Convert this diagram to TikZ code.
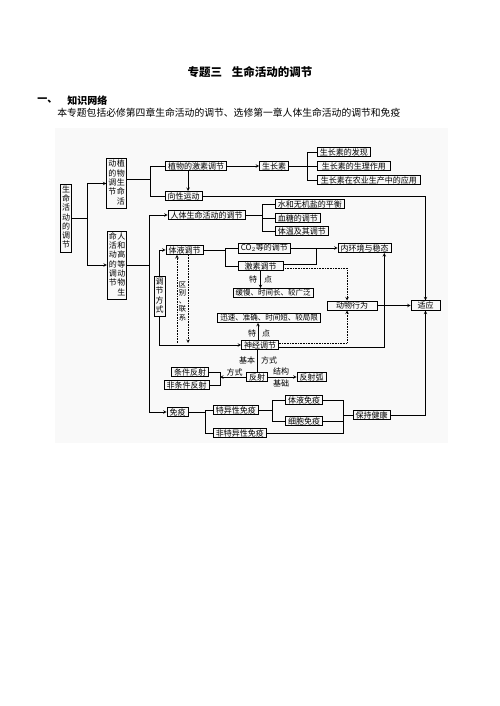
\documentclass[tikz,border=0pt]{standalone}
\usepackage{fontspec}
\setmainfont{Noto Sans CJK SC}
\newcommand{\vcol}[1]{\begin{tabular}[t]{@{}c@{}}#1\end{tabular}}
\begin{document}
\begin{tikzpicture}[x=1pt,y=-1pt,>=stealth,semithick,
  box/.style={draw,inner xsep=2.5pt,inner ysep=1pt,font=\fontsize{8}{8.7}\selectfont},
  vbox/.style={box,inner xsep=1.5pt,inner ysep=1.5pt},
  lbl/.style={inner sep=0pt,font=\fontsize{8}{8.7}\selectfont}]
\useasboundingbox (0,0) rectangle (500,706);
\fill[gray!5] (55,128) rectangle (448,443);
\node (title) [inner sep=0pt,font=\fontsize{11.5}{13}\selectfont\bfseries] at (250,72) {专题三\hspace{10pt}生命活动的调节};
\node (sec) [anchor=west,inner sep=0pt,font=\fontsize{10}{12}\selectfont\bfseries] at (37,101) {一、};
\node (sectitle) [anchor=west,inner sep=0pt,font=\fontsize{10}{12}\selectfont\bfseries] at (67,101) {知识网络};
\node (intro) [anchor=west,inner sep=0pt,font=\fontsize{9.8}{12}\selectfont] at (57,113) {本专题包括必修第四章生命活动的调节、选修第一章人体生命活动的调节和免疫};
% left column
\node (life) [vbox] at (66,218) {\vcol{生\\命\\活\\动\\的\\调\\节}};
\node (plant) [vbox] at (116.5,183.5) {\vcol{动\\的\\调\\节}\hspace{.5pt}\vcol{植\\物\\生\\命\\活}};
\node (animal) [vbox] at (117,265) {\vcol{命\\活\\动\\的\\调\\节}\hspace{.5pt}\vcol{人\\和\\高\\等\\动\\物\\生}};
% plants
\node (hormone) [box] at (196,166) {植物的激素调节};
\node (tropism) [box] at (183.5,196) {向性运动};
\node (auxin) [box] at (274,166) {生长素};
\node (aux1) [box,anchor=west] at (317,152) {生长素的发现};
\node (aux2) [box,anchor=west,minimum width=73pt] at (317,166) {生长素的生理作用};
\node (aux3) [box,anchor=west,minimum width=103pt] at (317,180) {生长素在农业生产中的应用};
% humans and animals
\node (human) [box] at (206.5,215) {人体生命活动的调节};
\node (water) [box,anchor=west] at (275,204) {水和无机盐的平衡};
\node (sugar) [box,anchor=west] at (275,218) {血糖的调节};
\node (temp) [box,anchor=west] at (275,231) {体温及其调节};
\node (humoral) [box] at (184.5,250) {体液调节};
\node (co2) [box,anchor=west] at (238,248) {CO$_2$等的调节};
\node (hormreg) [box,minimum width=45pt] at (260.5,266) {激素调节};
\node (slow) [box,font=\fontsize{7.5}{8.7}\selectfont] at (273,293) {缓慢、时间长、较广泛};
\node (homeo) [box] at (364.5,248) {内环境与稳态};
\node (behav) [box,minimum width=50pt] at (352,305.5) {动物行为};
\node (adapt) [box,minimum width=29pt] at (425.5,305.5) {适应};
\node (mode) [vbox] at (159.5,296.5) {\vcol{调\\节\\方\\式}};
\node (diff) [lbl,font=\fontsize{7.3}{7.8}\selectfont] at (182.5,302) {\vcol{区\\别\\、\\联\\系}};
\node (fast) [box,font=\fontsize{7.5}{8.7}\selectfont] at (269,318) {迅速、准确、时间短、较局限};
\node (nerve) [box] at (260,345) {神经调节};
\node (reflex) [box] at (257,377) {反射};
\node (cond) [box] at (190,372) {条件反射};
\node (uncond) [box] at (186.5,385) {非条件反射};
\node (arc) [box] at (311.5,377) {反射弧};
\node (immune) [box] at (177.5,412) {免疫};
\node (spec) [box,anchor=west] at (213,410) {特异性免疫};
\node (nonspec) [box,anchor=west] at (213,433) {非特异性免疫};
\node (humimm) [box] at (304,400) {体液免疫};
\node (cellimm) [box] at (304,421) {细胞免疫};
\node (health) [box] at (371.5,415) {保持健康};
% small labels
\node (t1) [lbl] at (253,279) {特};
\node (d1) [lbl] at (268,279) {点};
\node (t2) [lbl] at (252,333) {特};
\node (d2) [lbl] at (266,333) {点};
\node (basic) [lbl] at (247,360) {基本};
\node (way1) [lbl] at (269,360) {方式};
\node (way2) [lbl] at (234.5,372) {方式};
\node (struct) [lbl] at (281,371) {结构};
\node (base) [lbl] at (281,383) {基础};
% junctions
\coordinate (jA) at (87,218);
\coordinate (jB) at (150,179);
\coordinate (jC) at (307,166);
\coordinate (jD) at (149,265);
\coordinate (jE) at (262,215);
\coordinate (jF) at (225,250);
\coordinate (jG) at (316,248);
\coordinate (jH) at (220,378);
\coordinate (jI) at (205,412);
\coordinate (jJ) at (272,410);
\coordinate (jK) at (343,415);
\coordinate (dA) at (177,343);
\coordinate (dB) at (188,343);
% connectors
\draw (life.east) -- (jA);
\draw[->] (jA) |- (plant.west);
\draw[->] (jA) |- (animal.west);
\draw (plant.east |- jB) -- (jB);
\draw (hormone.west) -| (jB |- tropism) -- (tropism.west);
\draw[->] ([xshift=-8pt]hormone.south) -- ([xshift=-8pt]hormone.south |- tropism.north);
\draw[->] (hormone.east) -- (auxin.west);
\draw (auxin.east) -- (jC);
\draw (aux1.west) -| (jC |- aux3) -- (aux3.west);
\draw (jC |- aux2) -- (aux2.west);
\draw[->] (tropism.east) -| (adapt.north);
\draw (animal.east) -- (jD);
\draw[->] (jD) |- (human.west);
\draw[->] (jD) |- (immune.west);
\draw (human.east) -- (jE);
\draw (water.west) -| (jE |- temp) -- (temp.west);
\draw (jE |- sugar) -- (sugar.west);
\draw[->] (mode.north) |- (humoral.west);
\draw[->] (mode.south) |- (nerve.west);
\draw[densely dotted,->] (dA) -- (dA |- humoral.south);
\draw[densely dotted,->] (dB |- humoral.south) -- (dB);
\draw (humoral.east) -- (jF);
\draw (co2.west) -| (jF |- hormreg) -- (hormreg.west);
\draw[->] (co2.east) -- (homeo.west);
\draw ([yshift=2pt]hormreg.east) -| (jG);
\draw[densely dotted,->] ([yshift=-2pt]hormreg.east) -| ([xshift=-5pt]behav.north);
\draw[->] (hormreg.south) -- (hormreg.south |- slow.north);
\draw[->] ([xshift=-2pt]nerve.north) -- ([xshift=-2pt]nerve.north |- fast.south);
\draw[->] ([yshift=-2pt]nerve.east) -| ([xshift=-7pt]homeo.south east);
\draw[densely dotted,->] ([yshift=2pt]nerve.east) -| ([xshift=-5pt]behav.south);
\draw[->] (behav.east) -- (adapt.west);
\draw (reflex.north |- nerve.south) -- (reflex.north);
\draw[->] (reflex.west) -- (reflex.west -| jH);
\draw (cond.east) -| (jH |- uncond) -- (uncond.east);
\draw[->] (reflex.east) -- (arc.west);
\draw (immune.east) -- (jI);
\draw (spec.west) -| (jI |- nonspec) -- (nonspec.west);
\draw (spec.east) -- (spec.east -| jJ);
\draw (humimm.west) -| (jJ |- cellimm) -- (cellimm.west);
\draw (humimm.east) -| (jK |- nonspec) -- (nonspec.east);
\draw (cellimm.east) -- (cellimm.east -| jK);
\draw (jK) -- (health.west);
\draw[->] (health.east) -| (adapt.south);
\end{tikzpicture}
\end{document}
